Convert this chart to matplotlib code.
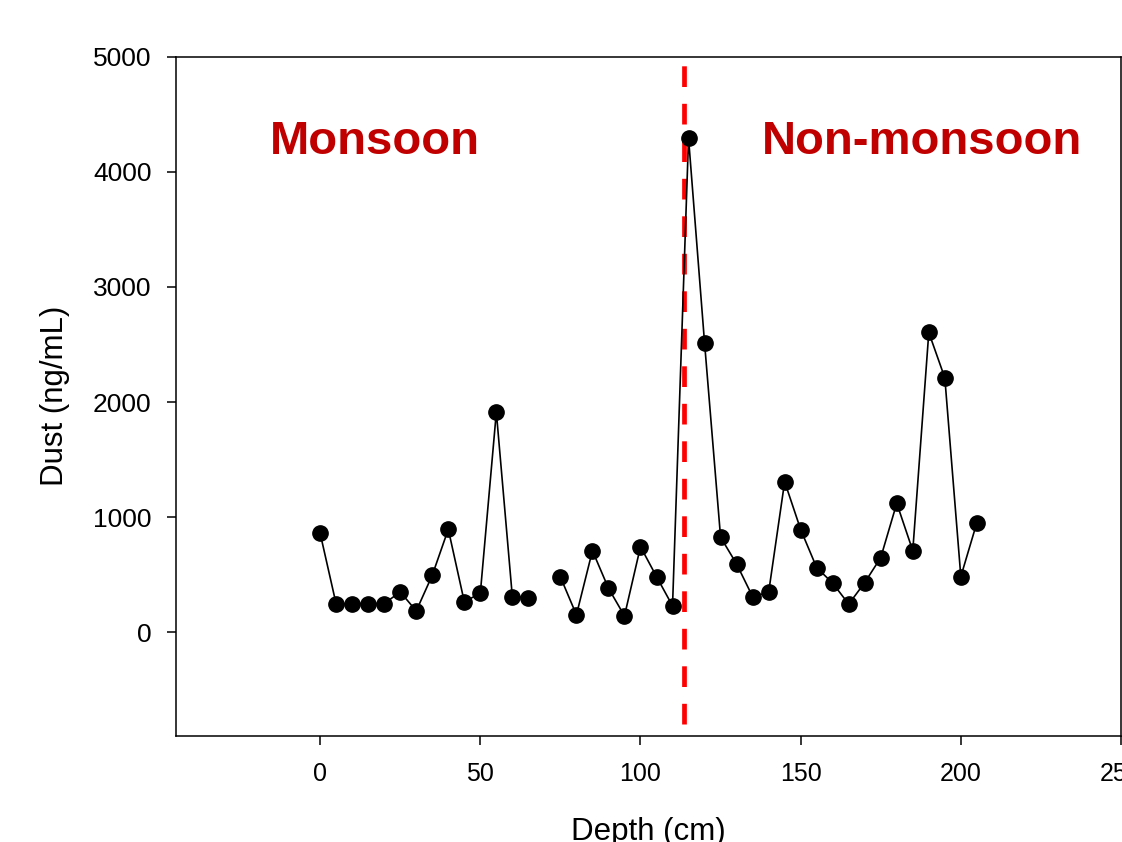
import numpy as np
import matplotlib
matplotlib.use("Agg")
import matplotlib.pyplot as plt

plt.rcParams['font.family'] = ['Liberation Sans', 'DejaVu Sans']
plt.rcParams['lines.scale_dashes'] = False

# Data
depth = [0, 5, 10, 15, 20, 25, 30, 35, 40, 45, 50, 55, 60, 65, 70,
         75, 80, 85, 90, 95, 100, 105, 110, 115, 120, 125, 130, 135, 140,
         145, 150, 155, 160, 165, 170, 175, 180, 185, 190, 195, 200, 205]
dust = [860, 245, 250, 250, 250, 351, 186, 496, 895, 265, 340, 1912, 308, 302, np.nan,
        481, 152, 709, 383, 143, 744, 484, 230, 4291, 2513, 826, 594, 310, 347,
        1308, 893, 562, 427, 245, 432, 649, 1121, 709, 2604, 2210, 484, 952]
boundary_depth = 113.7
boundary_span = [-800, 4930]
season_labels = ["Monsoon", "Non-monsoon"]
season_label_x = [17.2, 188.0]
season_label_y = 4156
x_ticks = [0, 50, 100, 150, 200, 250]
y_ticks = [0, 1000, 2000, 3000, 4000, 5000]

fig = plt.figure(figsize=(11.22, 8.42), dpi=100)
ax = fig.add_axes([176/1122, 1 - 736/842, (1121 - 176)/1122, (736 - 56.5)/842])

ax.plot(depth, dust, color='black', lw=1.2, marker='o', markersize=11,
        markerfacecolor='black', markeredgecolor='black', zorder=3)

ax.plot([boundary_depth, boundary_depth], boundary_span, color='#FF0000', lw=3.4,
        linestyle=(0, (14.9, 12.1)), solid_capstyle='butt', dash_capstyle='butt', zorder=2)

for lab, lx in zip(season_labels, season_label_x):
    ax.text(lx, season_label_y, lab, color='#C00000', fontsize=34, fontweight='bold',
            ha='center', va='baseline')

ax.set_xlim(-45, 250)
ax.set_ylim(-900, 5000)
ax.set_xticks(x_ticks)
ax.set_yticks(y_ticks)

for s in ax.spines.values():
    s.set_linewidth(1.1)
ax.tick_params(direction='out', length=6.5, width=1.1, top=False, right=False)
ax.tick_params(axis='x', labelsize=18, pad=12)
ax.tick_params(axis='y', labelsize=19, pad=11)

ax.set_xlabel("Depth (cm)", fontsize=22.5)
ax.set_ylabel("Dust (ng/mL)", fontsize=22.5)
ax.xaxis.set_label_coords(0.5, -0.119)
ax.yaxis.set_label_coords(-0.112, 0.5)

fig.savefig("out.png", dpi=100)
